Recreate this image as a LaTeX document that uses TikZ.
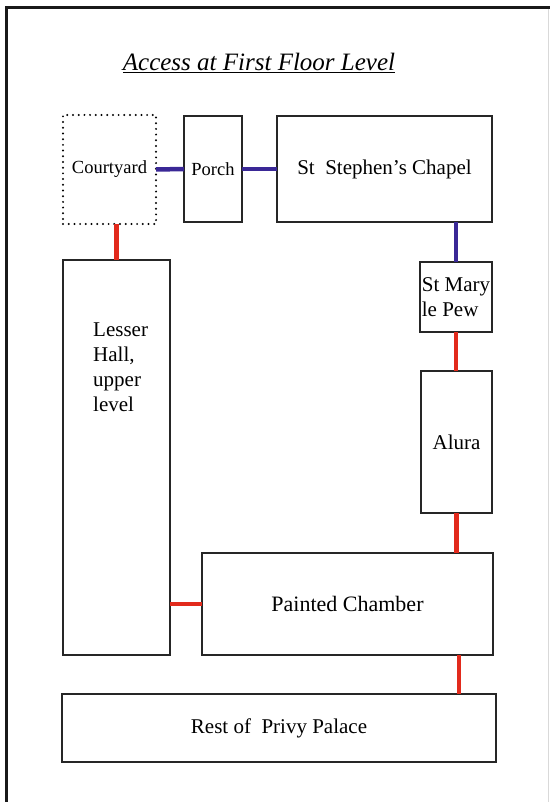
\documentclass[tikz,border=0pt]{standalone}
\usepackage{fontspec}
\setmainfont{Liberation Serif}
\begin{document}
\begin{tikzpicture}[x=1pt,y=-1pt,
  box/.style={draw=black!85,line width=1.2pt,inner sep=0pt,outer sep=0pt,anchor=north west,font=\rmfamily\fontsize{21}{25}\selectfont},
  dotbox/.style={box,draw=black,line width=2.2pt,line cap=round,dash pattern=on 0pt off 5.7pt},
  smalltext/.style={font=\rmfamily\fontsize{18.5}{22}\selectfont},
  blueline/.style={draw={rgb,255:red,58;green,40;blue,150},line width=4.5pt},
  redline/.style={draw={rgb,255:red,226;green,42;blue,28},line width=4.5pt}]
\useasboundingbox (0,0) rectangle (550,802);
% frame
\draw[line width=3pt,black!90] (6.5,802) -- (6.5,7.5) -- (550,7.5);
\draw[line width=1pt,black!15] (548,9) -- (548,802);
% title
\node (title) at (259,63) {\rmfamily\fontsize{25}{30}\selectfont\itshape\underline{Access at First Floor Level}};
% boxes
\node[dotbox,smalltext,minimum width=93pt,minimum height=109pt] (court) at (63,115) {Courtyard};
\node[box,smalltext,minimum width=58pt,minimum height=106pt] (porch) at (184,116) {Porch};
\node[box,minimum width=215pt,minimum height=106pt] (chapel) at (277,116) {St\ \ Stephen's Chapel};
\node[box,minimum width=72pt,minimum height=70pt,align=left] (stmary) at (420,262) {St Mary\\le Pew};
\node[box,minimum width=71pt,minimum height=142pt] (alura) at (421,371) {Alura};
\node[box,minimum width=107pt,minimum height=395pt] (lesser) at (63,260) {};
\node[anchor=north west,inner sep=0pt,align=left,font=\rmfamily\fontsize{21}{25}\selectfont] (lessertext) at (93,323) {Lesser\\Hall,\\upper\\level};
\node[box,font=\rmfamily\fontsize{22}{26}\selectfont,minimum width=291pt,minimum height=102pt] (painted) at (202,553) {Painted Chamber};
\node[box,minimum width=434pt,minimum height=68pt] (rest) at (62,694) {Rest of\ \ Privy Palace};
% connectors
\draw[blueline] (court.east) -- (porch.west);
\draw[blueline] (porch.east) -- (chapel.west);
\draw[blueline] (stmary.north |- chapel.south) -- (stmary.north);
\draw[redline] (stmary.south) -- (stmary.south |- alura.north);
\draw[redline] (alura.south) -- (alura.south |- painted.north);
\draw[redline] (lesser.north) -- (lesser.north |- court.south);
\draw[redline] (painted.west) -- (painted.west -| lesser.east);
\coordinate (pc) at ([xshift=-34pt]painted.south east);
\draw[redline] (pc) -- (pc |- rest.north);
\end{tikzpicture}
\end{document}
